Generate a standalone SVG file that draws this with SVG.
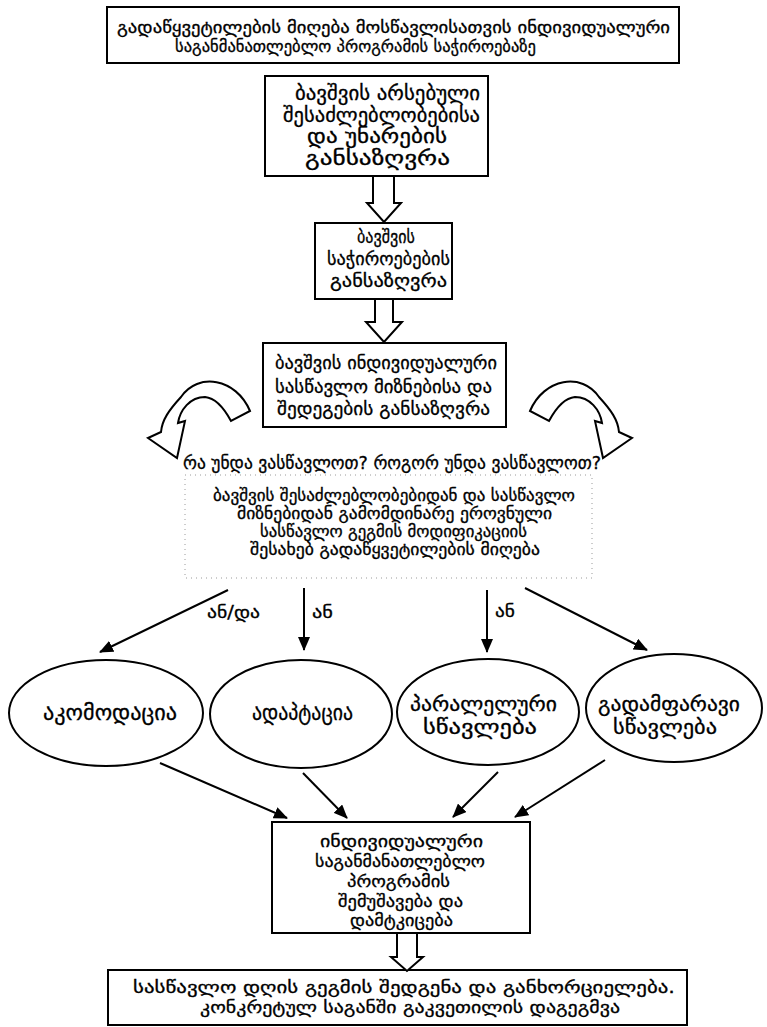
<svg xmlns="http://www.w3.org/2000/svg" width="767" height="1027" viewBox="0 0 767 1027">
<style>
.bx{fill:#fff;stroke:#000;stroke-width:2}
.el{fill:#fff;stroke:#000;stroke-width:2}
.t{font-family:"DejaVu Sans",sans-serif;fill:#000;stroke:#000;stroke-width:0.3}
.hol{fill:#fff;stroke:#000;stroke-width:2;stroke-linejoin:miter}
.cn{stroke:#000;stroke-width:2;fill:none}
</style>
<defs>
<marker id="ah" markerUnits="userSpaceOnUse" markerWidth="14" markerHeight="12" refX="13" refY="6" orient="auto">
<path d="M0,0 L14,6 L0,12 Z" fill="#000"/>
</marker>
<path id="curl" d="M250 411 C236 378 198 372 181 397 C169 410 162 420 161 432 L148 438 L177 458 L185 421 L178 423 C180 410 190 397 205 397 C216 398 224 408 231 421 Z"/>
</defs>

<g id="n-top">
<rect class="bx" x="107" y="7" width="572" height="56"/>
<text class="t" font-size="16.5" x="117" y="33" textLength="553" lengthAdjust="spacingAndGlyphs">გადაწყვეტილების მიღება მოსწავლისათვის ინდივიდუალური</text>
<text class="t" font-size="16.5" x="175" y="52" textLength="361" lengthAdjust="spacingAndGlyphs">საგანმანათლებლო პროგრამის საჭიროებაზე</text>
</g>

<g id="n-abilities">
<rect class="bx" x="265" y="76" width="223" height="100"/>
<text class="t" font-size="19" x="295" y="100" textLength="185" lengthAdjust="spacingAndGlyphs">ბავშვის არსებული</text>
<text class="t" font-size="19" x="283" y="122" textLength="197" lengthAdjust="spacingAndGlyphs">შესაძლებლობებისა</text>
<text class="t" font-size="19" x="307" y="143" textLength="140" lengthAdjust="spacingAndGlyphs">და უნარების</text>
<text class="t" font-size="19" x="305" y="165" textLength="145" lengthAdjust="spacingAndGlyphs">განსაზღვრა</text>
</g>

<g id="n-needs">
<rect class="bx" x="315" y="223" width="137" height="76"/>
<text class="t" font-size="18.5" x="357" y="243" textLength="58" lengthAdjust="spacingAndGlyphs">ბავშვის</text>
<text class="t" font-size="18.5" x="327" y="265" textLength="123" lengthAdjust="spacingAndGlyphs">საჭიროებების</text>
<text class="t" font-size="18.5" x="330" y="287" textLength="117" lengthAdjust="spacingAndGlyphs">განსაზღვრა</text>
</g>

<g id="n-goals">
<rect class="bx" x="263" y="343" width="243" height="84"/>
<text class="t" font-size="18.5" x="275" y="369" textLength="222" lengthAdjust="spacingAndGlyphs">ბავშვის ინდივიდუალური</text>
<text class="t" font-size="18.5" x="275" y="393" textLength="217" lengthAdjust="spacingAndGlyphs">სასწავლო მიზნებისა და</text>
<text class="t" font-size="18.5" x="277" y="415" textLength="213" lengthAdjust="spacingAndGlyphs">შედეგების განსაზღვრა</text>
</g>

<g id="n-question">
<text class="t" font-size="18" x="183" y="469" textLength="418" lengthAdjust="spacingAndGlyphs">რა უნდა ვასწავლოთ? როგორ უნდა ვასწავლოთ?</text>
</g>

<g id="n-decision">
<rect x="185" y="475" width="407" height="103" fill="none" stroke="#9a9a9a" stroke-width="1" stroke-dasharray="1 4"/>
<text class="t" font-size="15.5" x="213" y="501" textLength="362" lengthAdjust="spacingAndGlyphs">ბავშვის შესაძლებლობებიდან და სასწავლო</text>
<text class="t" font-size="15.5" x="237" y="519" textLength="315" lengthAdjust="spacingAndGlyphs">მიზნებიდან გამომდინარე ეროვნული</text>
<text class="t" font-size="15.5" x="260" y="537" textLength="267" lengthAdjust="spacingAndGlyphs">სასწავლო გეგმის მოდიფიკაციის</text>
<text class="t" font-size="15.5" x="250" y="555" textLength="290" lengthAdjust="spacingAndGlyphs">შესახებ გადაწყვეტილების მიღება</text>
</g>

<g id="n-accommodation">
<ellipse class="el" cx="106" cy="713" rx="97" ry="53"/>
<text class="t" font-size="21" x="43" y="720" textLength="134" lengthAdjust="spacingAndGlyphs">აკომოდაცია</text>
</g>

<g id="n-adaptation">
<ellipse class="el" cx="301" cy="714" rx="91" ry="54"/>
<text class="t" font-size="21" x="252" y="720" textLength="101" lengthAdjust="spacingAndGlyphs">ადაპტაცია</text>
</g>

<g id="n-parallel">
<ellipse class="el" cx="488" cy="712" rx="91" ry="53"/>
<text class="t" font-size="19" x="410" y="711" textLength="147" lengthAdjust="spacingAndGlyphs">პარალელური</text>
<text class="t" font-size="19" x="423" y="734" textLength="114" lengthAdjust="spacingAndGlyphs">სწავლება</text>
</g>

<g id="n-overlapping">
<ellipse class="el" cx="674" cy="708" rx="88" ry="54"/>
<text class="t" font-size="19" x="598" y="711" textLength="142" lengthAdjust="spacingAndGlyphs">გადამფარავი</text>
<text class="t" font-size="19" x="613" y="734" textLength="104" lengthAdjust="spacingAndGlyphs">სწავლება</text>
</g>

<g id="n-iep">
<rect class="bx" x="272" y="822" width="258" height="111"/>
<text class="t" font-size="16.5" x="320" y="847" textLength="163" lengthAdjust="spacingAndGlyphs">ინდივიდუალური</text>
<text class="t" font-size="16.5" x="315" y="867" textLength="170" lengthAdjust="spacingAndGlyphs">საგანმანათლებლო</text>
<text class="t" font-size="16.5" x="347" y="887" textLength="103" lengthAdjust="spacingAndGlyphs">პროგრამის</text>
<text class="t" font-size="16.5" x="338" y="907" textLength="125" lengthAdjust="spacingAndGlyphs">შემუშავება და</text>
<text class="t" font-size="16.5" x="350" y="926" textLength="103" lengthAdjust="spacingAndGlyphs">დამტკიცება</text>
</g>

<g id="n-daily">
<rect class="bx" x="108" y="970" width="579" height="55"/>
<text class="t" font-size="17" x="133" y="993" textLength="542" lengthAdjust="spacingAndGlyphs">სასწავლო დღის გეგმის შედგენა და განხორციელება.</text>
<text class="t" font-size="17" x="200" y="1013" textLength="420" lengthAdjust="spacingAndGlyphs">კონკრეტულ საგანში გაკვეთილის დაგეგმვა</text>
</g>

<g id="connectors">
<path class="hol" d="M373 177 V203 H367 L384 222 L401 203 H394 V177"/>
<path class="hol" d="M375 300 V322 H366 L384 342 L402 322 H393 V300"/>
<path class="hol" d="M397 934 V957 H391 L407 971 L423 957 H417 V934"/>
<use href="#curl" class="hol"/>
<use href="#curl" class="hol" transform="translate(780,0) scale(-1,1)"/>
<line class="cn" x1="228" y1="590" x2="100" y2="652" marker-end="url(#ah)"/>
<line class="cn" x1="304" y1="588" x2="304" y2="650" marker-end="url(#ah)"/>
<line class="cn" x1="487" y1="590" x2="487" y2="652" marker-end="url(#ah)"/>
<line class="cn" x1="525" y1="588" x2="647" y2="650" marker-end="url(#ah)"/>
<line class="cn" x1="160" y1="763" x2="287" y2="818" marker-end="url(#ah)"/>
<line class="cn" x1="303" y1="773" x2="347" y2="818" marker-end="url(#ah)"/>
<line class="cn" x1="498" y1="772" x2="453" y2="817" marker-end="url(#ah)"/>
<line class="cn" x1="605" y1="760" x2="515" y2="817" marker-end="url(#ah)"/>
<text class="t" font-size="17" x="207" y="618" textLength="53" lengthAdjust="spacingAndGlyphs">ან/და</text>
<text class="t" font-size="17" x="312" y="618" textLength="21" lengthAdjust="spacingAndGlyphs">ან</text>
<text class="t" font-size="17" x="495" y="617" textLength="20" lengthAdjust="spacingAndGlyphs">ან</text>
</g>
</svg>
